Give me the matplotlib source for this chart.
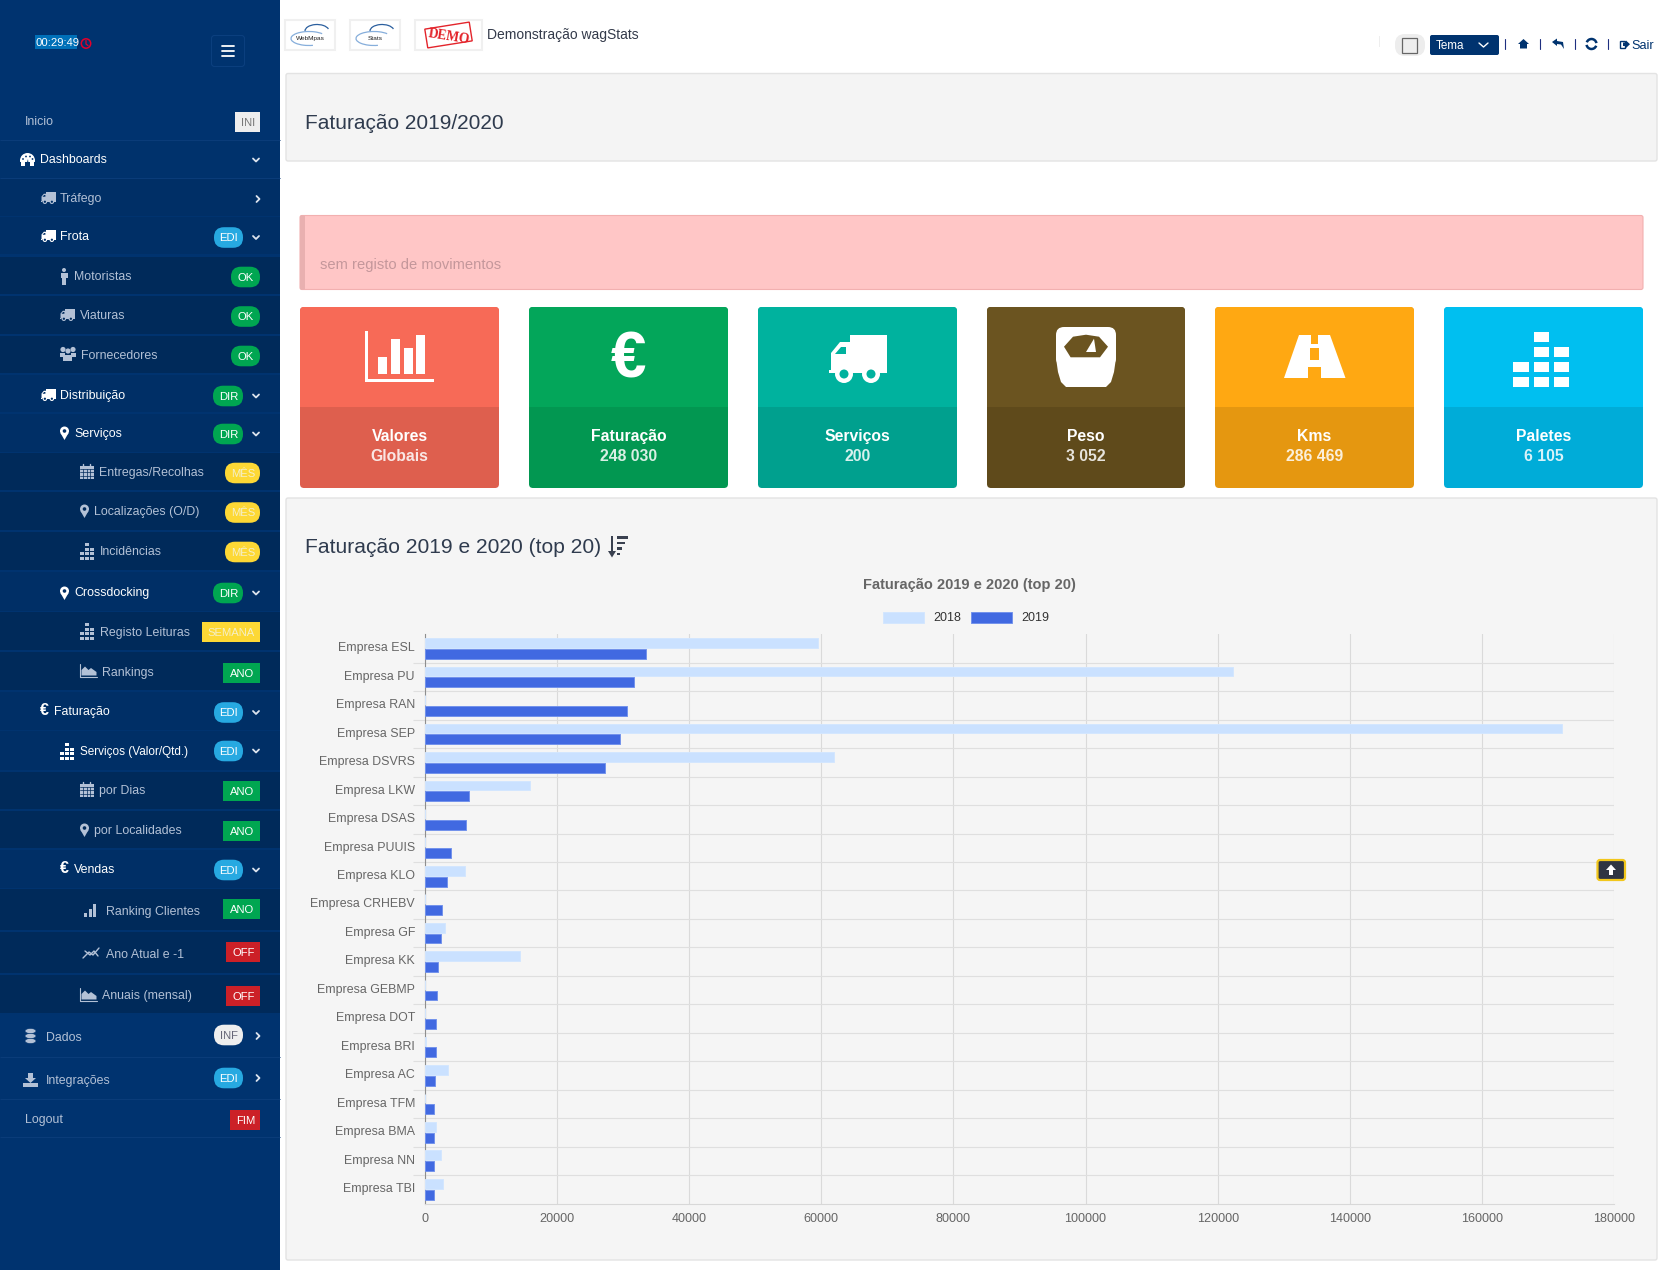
import numpy as np
import matplotlib
matplotlib.use("Agg")
import matplotlib.pyplot as plt
from matplotlib.patches import Rectangle, FancyBboxPatch, Circle, Polygon, Ellipse, Arc
from matplotlib.ticker import FixedLocator, NullFormatter
from matplotlib.transforms import ScaledTranslation

# ---------- chart data ----------
companies = ["Empresa ESL", "Empresa PU", "Empresa RAN", "Empresa SEP", "Empresa DSVRS",
             "Empresa LKW", "Empresa DSAS", "Empresa PUUIS", "Empresa KLO", "Empresa CRHEBV",
             "Empresa GF", "Empresa KK", "Empresa GEBMP", "Empresa DOT", "Empresa BRI",
             "Empresa AC", "Empresa TFM", "Empresa BMA", "Empresa NN", "Empresa TBI"]
v2018 = [59450, 122260, 0, 172170, 61940, 15890, 0, 0, 6050, 0,
         3030, 14340, 0, 0, 150, 3480, 0, 1620, 2470, 2680]
v2019 = [33490, 31700, 30540, 29530, 27290, 6590, 6200, 3880, 3330, 2630,
         2370, 2020, 1870, 1720, 1720, 1570, 1410, 1410, 1360, 1360]
xticks = [0, 20000, 40000, 60000, 80000, 100000, 120000, 140000, 160000, 180000]

# ---------- dashboard card data ----------
card_titles = ["Valores", "Faturação", "Serviços", "Peso", "Kms", "Paletes"]
card_values = ["Globais", "248 030", "200", "3 052", "286 469", "6 105"]
card_top = ["#F76A57", "#03A65A", "#00B29E", "#6B5420", "#FFA812", "#00BFF0"]
card_bot = ["#DE5F4E", "#029751", "#00A08E", "#5F4A1B", "#E59710", "#00ACD8"]
card_x = [(300, 499), (529, 728), (758, 957), (987, 1185), (1215, 1414), (1444, 1643)]

W, H = 1673, 1270
FONT = "Liberation Sans"
plt.rcParams["font.family"] = [FONT, "DejaVu Sans"]
fig = plt.figure(figsize=(W / 100, H / 100), dpi=100, facecolor="white")

bg = fig.add_axes([0, 0, 1, 1], zorder=0)
bg.set_xlim(0, W); bg.set_ylim(H, 0); bg.axis("off")
fg = fig.add_axes([0, 0, 1, 1], zorder=5)
fg.set_xlim(0, W); fg.set_ylim(H, 0); fg.axis("off"); fg.patch.set_alpha(0)

def T(x, y, s, px=12.4, color="#333", ha="left", weight="normal", alpha=1, ax=None, **kw):
    (ax or bg).text(x, y + 0.32 * px, s, fontsize=px * 0.72, color=color, ha=ha, va="baseline",
                    fontweight=weight, alpha=alpha, **kw)

def R(x0, y0, x1, y1, fc, ec="none", lw=0, ax=None, z=1):
    (ax or bg).add_patch(Rectangle((x0, y0), x1 - x0, y1 - y0, fc=fc, ec=ec, lw=lw, zorder=z))

def RR(x0, y0, x1, y1, r, fc, ec="none", lw=0, ax=None, z=1):
    (ax or bg).add_patch(FancyBboxPatch((x0, y0), x1 - x0, y1 - y0, boxstyle=f"round,pad=0,rounding_size={r}",
                                        fc=fc, ec=ec, lw=lw, zorder=z))

def PG(pts, fc, z=3, ax=None):
    (ax or bg).add_patch(Polygon(pts, closed=True, fc=fc, ec="none", zorder=z))

def C(x, y, r, fc, z=3):
    bg.add_patch(Circle((x, y), r, fc=fc, ec="none", zorder=z))

def L(xs, ys, color, lw=1.0, z=3, cap="round"):
    bg.plot(xs, ys, color=color, lw=lw, solid_capstyle=cap, zorder=z)

# ---------- icons ----------
def truck(x, y, w, h, c, back):
    u, v = w / 58.0, h / 48.0
    R(x + 21 * u, y, x + w, y + 38 * v, c, z=3)
    PG([(x + 2 * u, y + 38 * v), (x + 2 * u, y + 18 * v), (x + 11 * u, y + 7 * v), (x + 21 * u, y + 7 * v),
        (x + 21 * u, y + 38 * v)], c)
    R(x, y + 35 * v, x + 4 * u, y + 38 * v, c, z=3)
    PG([(x + 6 * u, y + 19 * v), (x + 12 * u, y + 12 * v), (x + 17 * u, y + 12 * v), (x + 17 * u, y + 19 * v)], back, z=4)
    for cx in (15, 42):
        C(x + cx * u, y + 39 * v, 9 * min(u, v), c, z=4)
        C(x + cx * u, y + 39 * v, 4.5 * min(u, v), back, z=5)

def pin(x, y, c, back):
    C(x + 4.5, y + 5, 4.5, c)
    PG([(x + 0.5, y + 7), (x + 8.5, y + 7), (x + 4.5, y + 14)], c)
    C(x + 4.5, y + 5, 1.8, back, z=4)

def calendar(x, y, c):
    R(x, y + 2, x + 14, y + 15, c, z=3)
    for i in range(1, 4):
        L([x + 3.5 * i, x + 3.5 * i], [y + 5, y + 15], "#002A5A", 0.5, z=4)
    for j in (5, 8, 11.5):
        L([x, x + 14], [y + j, y + j], "#002A5A", 0.5, z=4)
    for i in (3, 10):
        L([x + i, x + i], [y, y + 3], c, 1.0, z=4)

def blocks(x, y, c, sw=4.0, sh=3.0, gx=1.0, gy=1.6):
    layout = [(1,), (1, 2), (0, 1, 2), (0, 1, 2)]
    for r, row in enumerate(layout):
        for k in row:
            R(x + k * (sw + gx), y + r * (sh + gy), x + k * (sw + gx) + sw, y + r * (sh + gy) + sh, c, z=3)

def area(x, y, c):
    L([x, x, x + 17], [y, y + 12.5, y + 12.5], c, 0.8)
    PG([(x + 1.5, y + 11.5), (x + 1.5, y + 6), (x + 5, y + 2.5), (x + 8.5, y + 6), (x + 11, y + 4), (x + 16.5, y + 8), (x + 16.5, y + 11.5)], c)

def man(x, y, c):
    C(x + 4, y + 2, 2, c)
    R(x + 1, y + 4.5, x + 8, y + 10, c, z=3)
    R(x + 2.5, y + 10, x + 6.5, y + 17, c, z=3)

def people(x, y, c):
    for cx in (3, 8, 13):
        C(x + cx, y + (2.5 if cx != 8 else 4), 2.6, c)
    R(x, y + 5.5, x + 5, y + 10, c, z=3)
    R(x + 11, y + 5.5, x + 16, y + 10, c, z=3)
    R(x + 3.5, y + 7.5, x + 12.5, y + 14, c, z=3)

def gauge(x, y, c, back):
    bg.add_patch(Circle((x + 7.5, y + 7.5), 7.5, fc=c, ec="none", zorder=3))
    R(x, y + 9, x + 15, y + 16, back, z=3)
    R(x + 1, y + 8, x + 5, y + 13, c, z=4); R(x + 10, y + 8, x + 14, y + 13, c, z=4)
    for dx, dy in ((3, 6), (6, 3.5), (10, 3.5), (12.5, 6)):
        C(x + dx, y + dy, 0.9, back, z=4)
    PG([(x + 6.5, y + 11), (x + 8.5, y + 11), (x + 8, y + 6)], back, z=4)

def euro(x, y, px, c, ax=None):
    T(x, y, "€", px, c, weight="bold", ax=ax)

def chev_down(x, y, c="#DDE4EE"):
    L([x - 3, x, x + 3], [y - 1.5, y + 1.5, y - 1.5], c, 1.3)

def chev_right(x, y, c="#DDE4EE"):
    L([x - 1.5, x + 1.5, x - 1.5], [y - 3, y, y + 3], c, 1.3)

# ---------- sidebar ----------
NAVY, L1C, L2C = "#00336F", "#002F66", "#002A5A"
R(0, 0, 280, H, NAVY, z=0)
for a, b in [(179, 215.5), (217, 254), (375, 412), (414, 451.5), (572, 610.5), (692, 729.5), (731, 770), (850, 887.5)]:
    R(0, a, 280, b, L1C)
for a, b in [(257, 294), (296, 334), (336, 373), (453, 490), (492, 530), (532, 570), (612, 650), (652, 690),
             (772, 809), (811, 848), (889, 930), (932, 973), (975, 1013)]:
    R(0, a, 280, b, L2C)
R(0, 141, 280, 177.5, "#00326C")
for y in (139.5, 178, 1056.5, 1098.5, 1136.5):
    L([0, 280], [y, y], "#0B3D7A", 0.7, cap="butt")

WHITE, SOFT = "#FFFFFF", "#B3C1D6"
GREEN, BLUE, YEL, RED_, GREY = "#00A651", "#27A9E1", "#FDD835", "#CC2027", "#EEEEEE"

menu_labels = ["Inicio", "Dashboards", "Tráfego", "Frota", "Motoristas", "Viaturas", "Fornecedores", "Distribuição",
               "Serviços", "Entregas/Recolhas", "Localizações (O/D)", "Incidências", "Crossdocking", "Registo Leituras",
               "Rankings", "Faturação", "Serviços (Valor/Qtd.)", "por Dias", "por Localidades", "Vendas",
               "Ranking Clientes", "Ano Atual e -1", "Anuais (mensal)", "Dados", "Integrações", "Logout"]
menu_x = [25, 40, 60, 60, 74, 80, 81, 60, 74, 99, 94, 100, 74, 100, 102, 54, 80, 99, 94, 74, 106, 106, 102, 46, 46, 25]
menu_y = [120.6, 158.8, 198.1, 236.1, 276.1, 315.1, 355.1, 395.1, 433.1, 472.1, 511.1, 551.3, 592.1, 632.1, 671.6, 710.6,
          751.1, 790.1, 829.6, 869.1, 911.1, 954.1, 995.1, 1037.1, 1079.6, 1118.6]
menu_bright = [0, 1, 0, 1, 0, 0, 0, 1, 1, 0, 0, 0, 1, 0, 0, 1, 1, 0, 0, 1, 0, 0, 0, 0, 0, 0]
for s, x, y, b in zip(menu_labels, menu_x, menu_y, menu_bright):
    T(x, y, s, 11.8 if "Valor" in s else 12.4, WHITE if b else SOFT)

# badges: text, x0, x1, centre y, colour, text colour, pill?
badges = [("INI", 235, 260, 122, GREY, "#777", 0), ("EDI", 214, 243, 237.5, BLUE, "#FFF", 1),
          ("OK", 231, 260, 277, GREEN, "#FFF", 1), ("OK", 231, 260, 316.5, GREEN, "#FFF", 1),
          ("OK", 231, 260, 356, GREEN, "#FFF", 1), ("DIR", 213, 243, 396, GREEN, "#FFF", 1),
          ("DIR", 213, 243, 434, GREEN, "#FFF", 1), ("MÊS", 225, 260, 473, YEL, "#F5EFC8", 1),
          ("MÊS", 225, 260, 512.5, YEL, "#F5EFC8", 1), ("MÊS", 225, 260, 552, YEL, "#F5EFC8", 1),
          ("DIR", 213, 243, 593, GREEN, "#FFF", 1), ("SEMANA", 202, 260, 632, YEL, "#F5EFC8", 0),
          ("ANO", 223, 260, 673, GREEN, "#FFF", 0), ("EDI", 214, 243, 712.5, BLUE, "#FFF", 1),
          ("EDI", 214, 243, 751, BLUE, "#FFF", 1), ("ANO", 223, 260, 791, GREEN, "#FFF", 0),
          ("ANO", 223, 260, 831, GREEN, "#FFF", 0), ("EDI", 214, 243, 870, BLUE, "#FFF", 1),
          ("ANO", 223, 260, 909, GREEN, "#FFF", 0), ("OFF", 226, 260, 952, RED_, "#FFF", 0),
          ("OFF", 226, 260, 996, RED_, "#FFF", 0), ("INF", 214, 243, 1035, GREY, "#667", 1),
          ("EDI", 214, 243, 1078, BLUE, "#FFF", 1), ("FIM", 230, 260, 1120, RED_, "#FFF", 0)]
for s, x0, x1, yc, col, tc, pill in badges:
    if pill:
        RR(x0, yc - 10.3, x1, yc + 10.3, 10, col, z=2)
    else:
        R(x0, yc - 10, x1, yc + 10, col, z=2)
    T((x0 + x1) / 2 + 0.5, yc, s, 11.3, tc, ha="center")

for y in (160, 237.5, 396, 434, 593, 712.5, 751, 870):
    chev_down(256, y)
for y in (199, 1036, 1078):
    chev_right(258, y)

# sidebar icons
gauge(20, 153, WHITE, "#00326C")
truck(41, 192, 15, 12, SOFT, L1C)
truck(41, 230, 15, 12, WHITE, L1C)
man(60, 268, SOFT)
truck(60, 309, 15, 12, SOFT, L2C)
people(60, 347, SOFT)
truck(41, 389, 15, 12, WHITE, L1C)
pin(60, 426, WHITE, L1C)
calendar(80, 464, SOFT)
pin(80, 504, SOFT, L2C)
blocks(80, 543, SOFT)
pin(60, 586, WHITE, L1C)
blocks(80, 623, SOFT)
area(80, 664, SOFT)
euro(40, 710, 16, WHITE)
blocks(60, 743, WHITE)
calendar(80, 782, SOFT)
pin(80, 823, SOFT, L2C)
euro(60, 868, 16, WHITE)
for i, h_ in enumerate((4, 8, 13)):
    R(84.5 + i * 4.5, 917 - h_, 87.5 + i * 4.5, 917, SOFT, z=3)
L([83, 89, 93, 99], [958, 952, 955, 948], SOFT, 1.0)
L([85, 90, 94, 98], [951, 955, 951, 956], SOFT, 1.0)
area(80, 988, SOFT)
for dy in (1031, 1036, 1041):
    bg.add_patch(Ellipse((30.5, dy), 11, 5, fc=SOFT, ec=NAVY, lw=0.4, zorder=3))
PG([(28, 1073), (33, 1073), (33, 1078), (36, 1078), (30.5, 1083), (25, 1078), (28, 1078)], SOFT)
R(23, 1083, 38, 1086.5, SOFT, z=3)

# timer + menu button
R(35, 35, 77, 48.7, "#0070B8", z=2)
T(35.5, 42.8, "00:29:49", 11.2, "#FFFFFF")
bg.add_patch(Circle((86, 43.5), 4.7, fc="none", ec="#E4002B", lw=1.1, zorder=3))
L([86, 86, 88], [40.5, 44, 45.5], "#E4002B", 0.9)
RR(211.5, 35.5, 244.5, 66.5, 3, "none", ec="#0B3F7E", lw=0.8)
for y in (46, 51, 55.5):
    L([222, 234.5], [y, y], "#FFFFFF", 1.3)

# ---------- header ----------
for x0, x1 in [(285, 335), (350, 400), (415, 482)]:
    R(x0, 20, x1, 50, "#FFFFFF", ec="#F0F0F0", lw=1.5)
for x0, s in [(288, "WebMpas"), (353, "Stats")]:
    bg.add_patch(Arc((x0 + 21, 38.5), 36, 14, theta1=60, theta2=340, ec="#86AEDB", lw=0.9, zorder=3))
    bg.add_patch(Arc((x0 + 29, 31), 24, 13, theta1=180, theta2=350, ec="#2B5F9E", lw=0.9, zorder=4))
    T(x0 + 22, 37.5, s, 6.5, "#222", ha="center", zorder=5)
rot = -9
bg.add_patch(Rectangle((426, 25.5), 45, 19, angle=rot, rotation_point="center", fc="white", ec="#E3242B", lw=1.0, zorder=3))
T(428, 33, "DEMO", 13.5, "#E3242B", weight="bold", family="Liberation Serif", rotation=rot,
  rotation_mode="anchor", zorder=5)
T(487, 35, "Demonstração wagStats", 13.9, "#333A4A")

R(1379, 36, 1380, 47, "#EEEEEE")
RR(1395, 34, 1425, 56, 10, "#EDEDED")
R(1402.5, 37.5, 1417.5, 53, "#EEEEEE", ec="#666666", lw=0.9, z=2)
RR(1430, 35, 1499, 55, 2, "#00336F")
T(1436, 45.5, "Tema", 11.6, "#FFFFFF")
L([1479, 1483.5, 1488], [43, 47, 43], "#FFFFFF", 1.0)
for x in (1505, 1540, 1575, 1608):
    L([x, x], [39, 49], "#1F2F80", 0.8)
PG([(1518, 44), (1523.5, 39), (1529, 44), (1527, 44), (1527, 48.5), (1520, 48.5), (1520, 44)], "#00336F")
PG([(1552, 42), (1557, 38.5), (1557, 41), (1563, 42), (1564, 49), (1561, 44.5), (1557, 44), (1557, 46)], "#00336F")
bg.add_patch(Arc((1591.5, 44), 10, 10, theta1=200, theta2=350, ec="#00336F", lw=1.8, zorder=3))
bg.add_patch(Arc((1591.5, 44), 10, 10, theta1=20, theta2=170, ec="#00336F", lw=1.8, zorder=3))
R(1620, 40.5, 1625, 48, "none", ec="#00336F", lw=1.0, z=3)
PG([(1623, 42.5), (1626, 42.5), (1626, 40.5), (1630, 44.2), (1626, 48), (1626, 46), (1623, 46)], "#00336F", z=4)
T(1631, 44.5, "Sair", 12.6, "#00336F")

# ---------- panels ----------
RR(286, 73.5, 1657, 161, 2, "#F4F4F4", ec="#E3E3E3", lw=1.0)
T(305, 122, "Faturação 2019/2020", 20.9, "#2F3B4E")
RR(300, 215.5, 1643, 289.5, 2, "#FFC6C6", ec="#F2B0B0", lw=0.8)
RR(300, 215.5, 305, 289.5, 1, "#E9B0B0")
T(320, 264, "sem registo de movimentos", 14.8, "#C4979B")

for (x0, x1), tc, bc, t, v in zip(card_x, card_top, card_bot, card_titles, card_values):
    RR(x0, 307, x1, 488, 4, bc)
    RR(x0, 307, x1, 330, 4, tc)
    R(x0, 315, x1, 407, tc)
    cx = (x0 + x1) / 2
    T(cx, 436, t, 15.8, "#FFFFFF", ha="center", weight="bold")
    T(cx, 456, v, 15.8, "#FFFFFF", ha="center", weight="bold", alpha=0.85)

# card icons
R(365, 331, 368.5, 382, "#FFFFFF", z=3); R(365, 378.5, 434, 382, "#FFFFFF", z=3)
for i, top in zip((0, 1, 2, 3), (356.7, 339.3, 348, 335)):
    x = 378 + i * 12.8
    R(x, top, x + 9, 374, "#FFFFFF", z=3)
bg.text(628, 360, "€", fontsize=46, color="#FFFFFF", fontweight="bold", ha="center", va="center", zorder=3)
truck(829, 335, 58, 48, "#FFFFFF", card_top[2])
# scale icon
RR(1056, 327, 1116, 366, 8, "#FFFFFF", z=3)
PG([(1056, 358), (1116, 358), (1114, 372), (1111, 382), (1106, 387), (1066, 387), (1061, 382), (1058, 372)], "#FFFFFF", z=3)
PG([(1064, 346.7), (1070.6, 357.3), (1100, 357.3), (1108, 346.7), (1099, 336.7), (1086, 334.7), (1073, 336.7)], card_top[3], z=4)
PG([(1086, 352), (1096, 352), (1094, 338.7)], "#FFFFFF", z=5)
# road icon
PG([(1284, 378), (1299, 335), (1330, 335), (1345.5, 378)], "#FFFFFF", z=3)
for a, b, xa, xb in [(335, 344, 1311.5, 1318), (347.7, 360, 1310, 1319.5), (366.7, 378, 1308, 1321)]:
    R(xa, a, xb, b, card_top[4], z=4)
blocks(1513.5, 332, "#FFFFFF", sw=15.5, sh=10, gx=4.6, gy=5)

RR(286, 498, 1657, 1260, 2, "#F5F5F5", ec="#E3E3E3", lw=1.0)
T(305, 546, "Faturação 2019 e 2020 (top 20)", 21.0, "#2F3B4E")
R(611, 536, 613, 553, "#3A4150", z=3)
PG([(608, 551), (616, 551), (612, 557.5)], "#3A4150")
for i, w in enumerate((11, 8, 5, 3)):
    R(617.5, 536 + i * 5.5, 617.5 + w, 538.8 + i * 5.5, "#3A4150", z=3)

# ---------- the chart ----------
ax_l, ax_r, ax_t, ax_b = 425.0, 1614.0, 634.3, 1203.5
ax = fig.add_axes([ax_l / W, 1 - ax_b / H, (ax_r - ax_l) / W, (ax_b - ax_t) / H], zorder=2)
ax.patch.set_alpha(0)
pos = np.arange(len(companies))
b1 = ax.barh(pos - 0.19, v2018, height=0.345, color="#CAE1FF", edgecolor="#D3E6FF", linewidth=0.7, label="2018", zorder=3)
b2 = ax.barh(pos + 0.19, v2019, height=0.345, color="#4169E1", edgecolor="#7393EC", linewidth=0.7, label="2019", zorder=3)
ax.set_xlim(0, 180000)
ax.set_ylim(len(companies) - 0.5, -0.5)
ax.set_xticks(xticks)
ax.set_xticklabels([str(v) for v in xticks])
ax.set_yticks(pos)
ax.set_yticklabels(companies)
ax.yaxis.set_minor_locator(FixedLocator(pos[:-1] + 0.5))
ax.yaxis.set_minor_formatter(NullFormatter())
ax.set_axisbelow(True)
ax.grid(True, axis="x", which="major", color="#DADADA", lw=0.8)
ax.grid(True, axis="y", which="minor", color="#DFDFDF", lw=0.8)
ax.grid(False, axis="y", which="major")
ax.tick_params(axis="y", which="major", length=0, pad=7.2, labelsize=8.9, labelcolor="#666666")
ax.tick_params(axis="y", which="minor", length=8.3, width=0.8, color="#DFDFDF")
ax.tick_params(axis="x", which="major", length=0, pad=7.0, labelsize=9.1, labelcolor="#666666")
lift = ScaledTranslation(0, 1.7 / 100, fig.dpi_scale_trans)
for lab in ax.get_yticklabels():
    lab.set_transform(lab.get_transform() + lift)
for side in ("top", "right"):
    ax.spines[side].set_visible(False)
ax.spines["left"].set_color("#8E8E8E"); ax.spines["left"].set_linewidth(0.8)
ax.spines["bottom"].set_color("#D8D8D8"); ax.spines["bottom"].set_linewidth(0.8)
ax.set_title("Faturação 2019 e 2020 (top 20)", x=(969 - ax_l) / (ax_r - ax_l), pad=32.5, fontsize=10.5,
             fontweight="bold", color="#666666")
leg = ax.legend(handles=[b1, b2], loc="center", bbox_to_anchor=(966 / W, 1 - 618 / H), bbox_transform=fig.transFigure,
                ncol=2, frameon=False, fontsize=9.0, handlelength=3.28, handleheight=0.96, handletextpad=0.72,
                columnspacing=0.8, borderpad=0, labelcolor="#333333")

# scroll-to-top button over the chart
RR(1597.5, 860, 1625, 880, 2.5, "#2F3542", ec="#F2C71C", lw=1.6, ax=fg, z=6)
PG([(1611, 864.5), (1616, 870), (1613, 870), (1613, 875), (1609, 875), (1609, 870), (1606, 870)], "#FFFFFF", z=7, ax=fg)

fig.savefig("out.png", dpi=100, facecolor="white")
